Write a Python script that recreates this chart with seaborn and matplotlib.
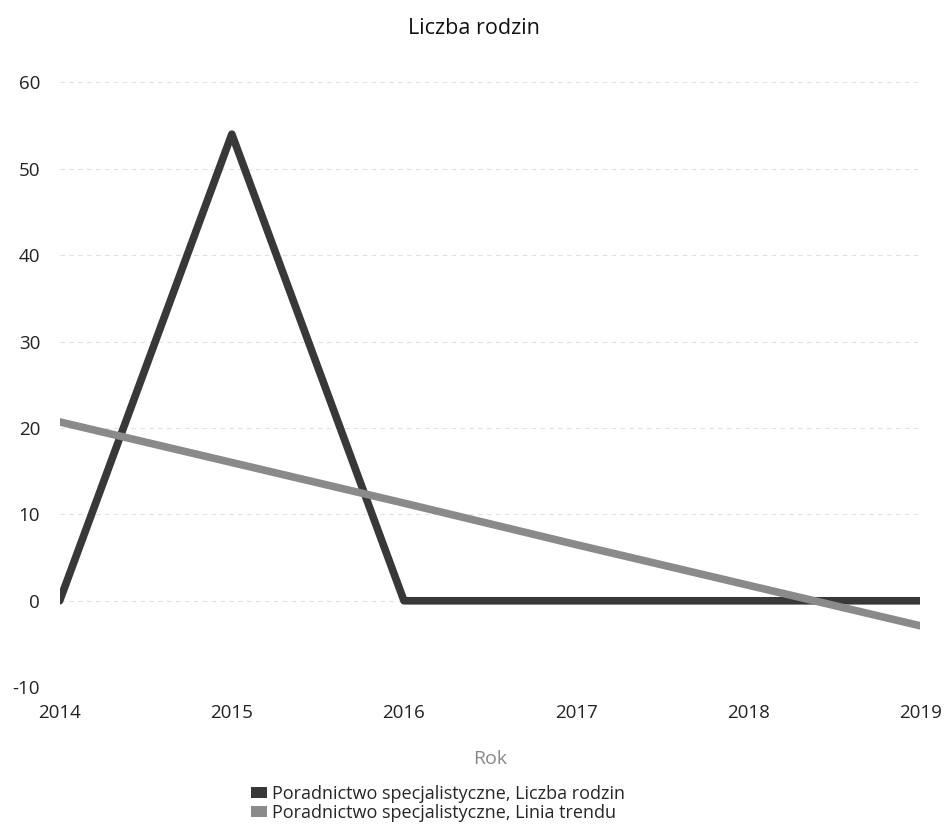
import pandas as pd
import matplotlib
matplotlib.use("Agg")
import matplotlib.pyplot as plt
from matplotlib.patches import Patch
import seaborn as sns

# data
years = [2014, 2015, 2016, 2017, 2018, 2019]
liczba_rodzin = [0, 54, 0, 0, 0, 0]
linia_trendu = [20.7, 16.0, 11.3, 6.5, 1.8, -2.9]

series_names = ["Poradnictwo specjalistyczne, Liczba rodzin",
                "Poradnictwo specjalistyczne, Linia trendu"]
series_colors = ["#383838", "#8a8a8a"]

df = pd.DataFrame({
    "Rok": years * 2,
    "Wartosc": liczba_rodzin + linia_trendu,
    "Seria": [series_names[0]] * len(years) + [series_names[1]] * len(years),
})

sns.set_style("white")
plt.rcParams["font.family"] = ["Open Sans", "DejaVu Sans"]
plt.rcParams["axes.unicode_minus"] = False

fig = plt.figure(figsize=(9.47, 8.36), dpi=100)
ax = fig.add_axes([0.063, 0.178, 0.909, 0.768])

sns.lineplot(data=df, x="Rok", y="Wartosc", hue="Seria", hue_order=series_names,
             palette=series_colors, linewidth=5.5, legend=False, ax=ax)

ax.set_xlim(2014, 2019)
ax.set_ylim(-10, 64.3)
ax.set_xticks(years)
ax.set_yticks([-10, 0, 10, 20, 30, 40, 50, 60])
ax.tick_params(axis="both", length=0, labelsize=13.5, colors="#222222")
ax.tick_params(axis="y", pad=14)
ax.tick_params(axis="x", pad=12)
ax.grid(axis="y", color="#e0e0e0", linestyle=(0, (4, 4)), linewidth=0.8)
for s in ax.spines.values():
    s.set_visible(False)

ax.set_xlabel("Rok", fontsize=14, color="#888888", labelpad=20)
ax.set_ylabel("")
fig.text(0.5, 0.966, "Liczba rodzin", ha="center", va="center", fontsize=15.5, color="#111111")

handles = [Patch(facecolor=c, edgecolor="none") for c in series_colors]
fig.legend(handles, series_names, loc="upper left", bbox_to_anchor=(0.257, 0.07),
           frameon=False, fontsize=13, handlelength=0.9, handleheight=0.55,
           handletextpad=0.3, labelspacing=0.05, borderaxespad=0)

fig.savefig("out.png", dpi=100)
